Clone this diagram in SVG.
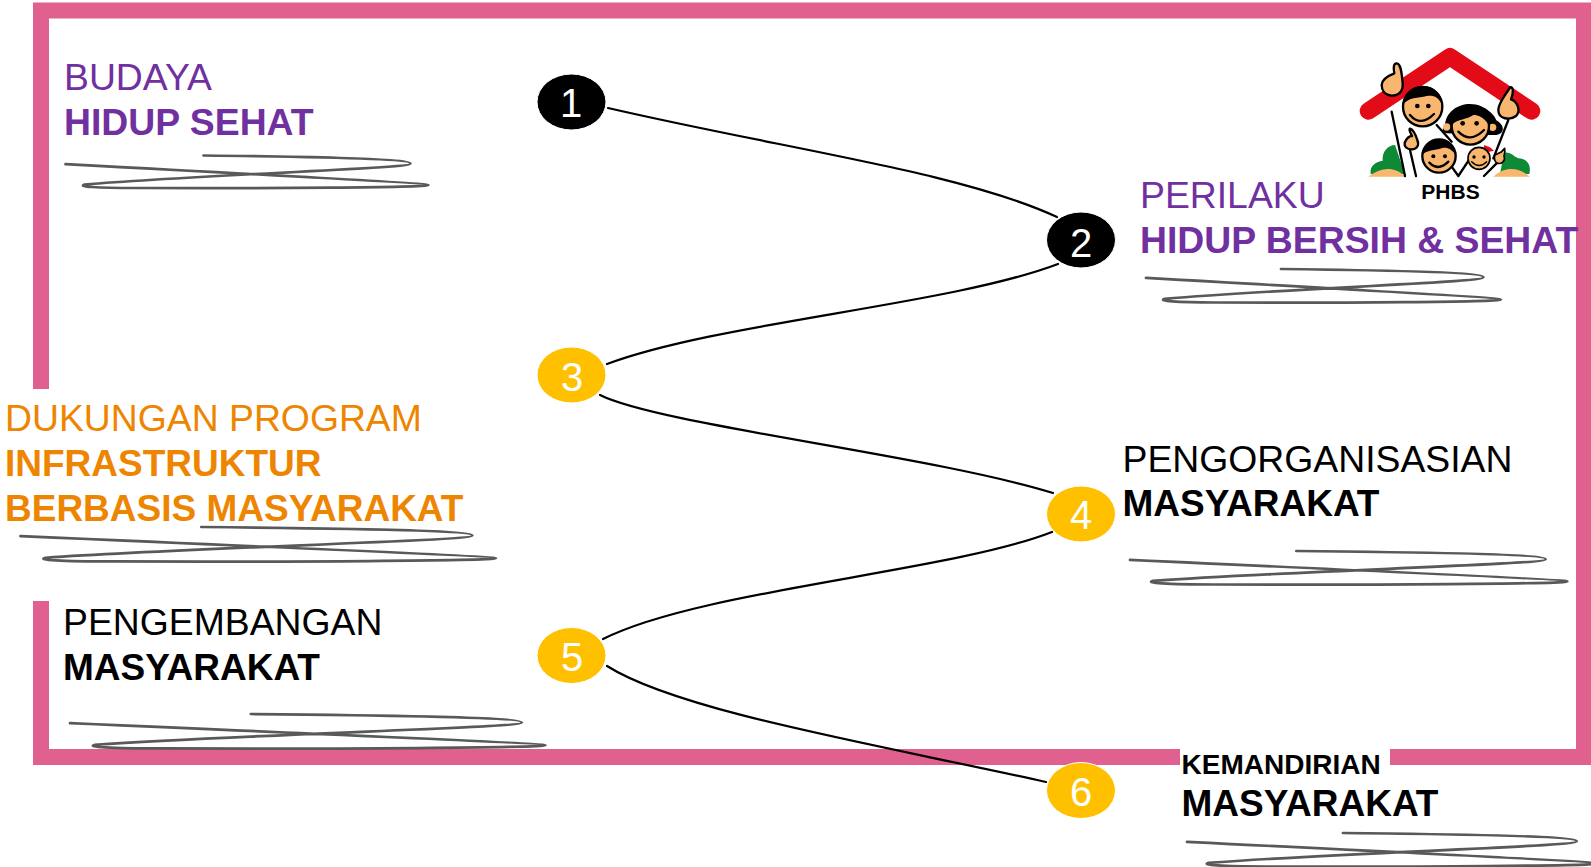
<svg xmlns="http://www.w3.org/2000/svg" width="1591" height="867" viewBox="0 0 1591 867">
<style>
text{font-family:"Liberation Sans",Arial,sans-serif}
.t{font-size:37.33px}
.b{font-weight:700}
.m{font-size:37px}
.purple{fill:#7030A0}
.orange{fill:#EE8500}
.black{fill:#000}
.num{font-size:40px;fill:#fff;text-anchor:middle}
.dark{fill:#000;stroke:#fff;stroke-width:1}
.gold{fill:#FFC000;stroke:#fff;stroke-width:1}
.conn{fill:none;stroke:#000;stroke-width:2.2;stroke-linecap:round}
.scr{fill:none;stroke:#595959;stroke-width:2.7;stroke-linecap:round;vector-effect:non-scaling-stroke}
.ol{stroke:#000;stroke-width:7;stroke-linejoin:round;stroke-linecap:round}
.sk{fill:#F9B66E}
.ln{fill:none;stroke:#000;stroke-width:7;stroke-linecap:round;stroke-linejoin:round}
.e{fill:#000}
</style>
<defs>
<path id="scribble" class="scr" d="M138 0C226 1 345 3 345 8C345 13 140 19 19 29C12 31 30 32.5 70 32.5C200 33 363 32 363 29.5C363 28 120 15 0 8.6"/>
</defs>
<rect width="1591" height="867" fill="#fff"/>
<path id="frame" d="M41 389V10.5H1584V757H1390M1180 757H41V601" fill="none" stroke="#E0618F" stroke-width="16"/>
<g id="connectors">
<path class="conn" d="M608 108C790 150 960 172 1057 217"/>
<path class="conn" d="M1058 264C950 305 720 322 607 364"/>
<path class="conn" d="M600 395C660 425 930 455 1053 493"/>
<path class="conn" d="M1052 532C950 572 700 590 603 639"/>
<path class="conn" d="M607 666C680 712 880 745 1046 782"/>
</g>
<g id="node1"><ellipse class="dark" cx="571.5" cy="102" rx="34.5" ry="28"/><text class="num" x="571" y="117">1</text></g>
<g id="node2"><ellipse class="dark" cx="1081" cy="240" rx="34.5" ry="28"/><text class="num" x="1081" y="257">2</text></g>
<g id="node3"><ellipse class="gold" cx="571.5" cy="375" rx="34.5" ry="28"/><text class="num" x="572" y="391">3</text></g>
<g id="node4"><ellipse class="gold" cx="1081" cy="514" rx="34.5" ry="28"/><text class="num" x="1081" y="529">4</text></g>
<g id="node5"><ellipse class="gold" cx="571.5" cy="655.5" rx="34.5" ry="28"/><text class="num" x="572" y="671">5</text></g>
<g id="node6"><ellipse class="gold" cx="1081" cy="790.5" rx="34.5" ry="28"/><text class="num" x="1081" y="806">6</text></g>
<g id="label-budaya">
<text class="t purple" x="64" y="90">BUDAYA</text>
<text class="t b purple" x="64" y="135">HIDUP SEHAT</text>
<use href="#scribble" transform="translate(65.5 155.5)"/>
</g>
<g id="label-perilaku">
<text class="t purple" x="1140" y="207.5">PERILAKU</text>
<text class="t b purple" x="1140" y="252.5">HIDUP BERSIH &amp; SEHAT</text>
<use href="#scribble" transform="translate(1146 269) scale(.978 1.03)"/>
</g>
<g id="label-dukungan">
<text class="t orange" x="5" y="430.5">DUKUNGAN PROGRAM</text>
<text class="m b orange" x="5" y="475.5">INFRASTRUKTUR</text>
<text class="m b orange" x="5" y="520.5">BERBASIS MASYARAKAT</text>
<use href="#scribble" transform="translate(20.5 527) scale(1.31 1.06)"/>
</g>
<g id="label-pengorganisasian">
<text class="t black" x="1122.5" y="471.5">PENGORGANISASIAN</text>
<text class="m b black" x="1122.5" y="516">MASYARAKAT</text>
<use href="#scribble" transform="translate(1130 551) scale(1.205 1.03)"/>
</g>
<g id="label-pengembangan">
<text class="t black" x="63" y="635">PENGEMBANGAN</text>
<text class="m b black" x="63" y="680">MASYARAKAT</text>
<use href="#scribble" transform="translate(70 714) scale(1.31 1.06)"/>
</g>
<g id="label-kemandirian">
<text class="b black" x="1181.5" y="773.5" font-size="28">KEMANDIRIAN</text>
<text class="m b black" x="1181.5" y="816">MASYARAKAT</text>
<use href="#scribble" transform="translate(1187 833) scale(1.13 1.03)"/>
</g>
<g id="logo">
<g transform="translate(1330 30) scale(.33333)">
<path d="M122 432C118 405 140 395 158 392C155 365 175 345 195 345L225 432Z" fill="#0E8A36"/>
<path d="M510 432L522 368C545 365 550 380 565 385C590 385 605 405 598 432Z" fill="#0E8A36"/>
<path class="sk" d="M115 440C150 415 190 405 225 440ZM490 440C530 405 570 415 600 440Z"/>
<path d="M115 243L360 80L605 243" fill="none" stroke="#E30B17" stroke-width="52" stroke-linecap="round" stroke-linejoin="round"/>
<path class="ln" d="M185 245L225 438M240 360L258 438M320 285L365 335M365 410L385 438L420 385M535 270L490 385M462 438L505 395"/>
<path class="ol sk" d="M155 165C155 145 180 135 193 130C190 115 190 100 200 100C212 100 215 125 218 160C220 185 205 197 185 197C165 195 155 182 155 165Z"/>
<path class="ol sk" d="M505 240C505 220 520 205 540 172C550 170 552 185 543 208C565 215 572 245 558 258C540 272 505 268 505 240Z"/>
<path d="M345 290C345 245 385 222 420 222C470 222 500 265 498 270C525 285 525 310 500 315H480L350 310C335 305 335 295 345 290Z" fill="#000"/>
<circle class="sk" cx="350" cy="291" r="11"/><circle class="sk" cx="488" cy="292" r="11"/>
<circle class="ol sk" cx="278" cy="230" r="59"/>
<path class="e" d="M219 225C220 190 245 168 278 168C312 168 337 190 337 225C325 200 310 195 290 198C265 205 235 200 219 225Z"/>
<circle class="e" cx="262" cy="228" r="7"/><circle class="e" cx="295" cy="228" r="7"/>
<path class="ln" d="M240 255Q272 292 312 252" stroke-width="6"/>
<circle class="ol sk" cx="421" cy="288" r="56"/>
<path class="e" d="M365 285C368 245 395 228 421 228C450 228 473 250 477 285C460 260 445 255 430 255C410 270 385 265 365 285Z"/>
<circle class="e" cx="398" cy="280" r="7"/><circle class="e" cx="440" cy="280" r="7"/>
<path class="ln" d="M385 305Q420 342 462 300" stroke-width="6"/>
<path class="ol sk" d="M224 338C230 325 240 318 246 318C240 305 236 298 240 296C250 298 258 318 262 330C268 345 262 358 245 358C230 358 222 350 224 338Z"/>
<circle class="ol sk" cx="327" cy="378" r="50"/>
<path class="e" d="M277 375C280 345 305 328 327 328C352 328 375 345 377 375C365 358 350 350 335 355C315 362 290 360 277 375Z"/>
<circle class="e" cx="310" cy="379" r="6"/><circle class="e" cx="345" cy="379" r="6"/>
<path class="ln" d="M298 398Q325 425 355 395" stroke-width="5"/>
<path d="M462 345L480 352L492 362L478 365L462 362Z" fill="#E30B17"/>
<circle class="ol sk" cx="447" cy="385" r="33" style="stroke-width:5"/>
<circle class="e" cx="432" cy="381" r="5"/><circle class="e" cx="462" cy="381" r="5"/>
<path class="ln" d="M425 395Q447 418 470 395" style="stroke-width:4"/>
<path class="ol sk" d="M495 375L515 365L524 355C526 365 524 372 522 378C528 395 512 402 504 400C495 398 490 385 495 375Z" style="stroke-width:5"/>
</g>
<text class="b black" x="1450.5" y="199" font-size="21" text-anchor="middle">PHBS</text>
</g>
</svg>
